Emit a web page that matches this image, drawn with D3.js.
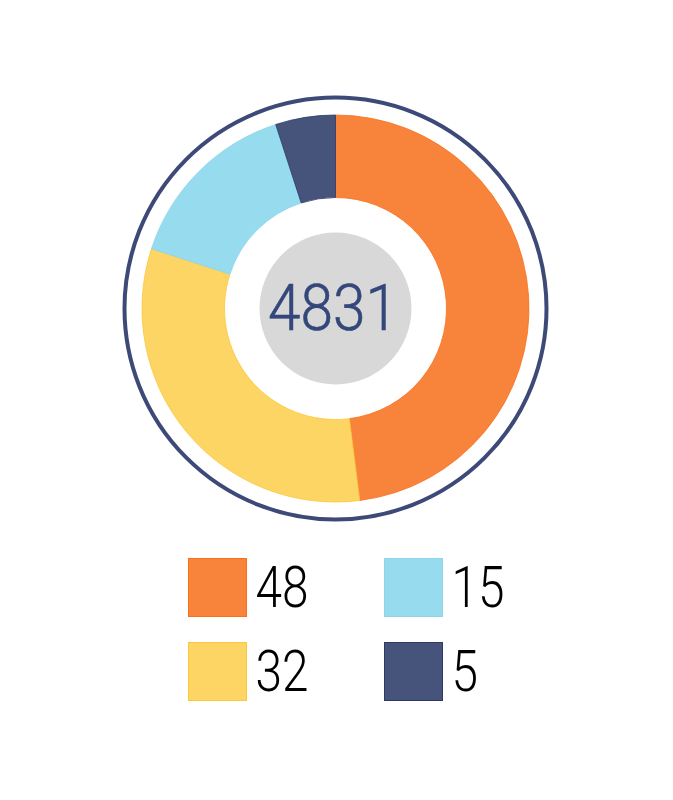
<!DOCTYPE html>
<html>
<head>
<meta charset="utf-8">
<script src="https://cdn.jsdelivr.net/npm/d3@7"></script>
<style>
  html, body { margin: 0; padding: 0; background: #ffffff; }
  svg { display: block; }
</style>
</head>
<body>
<svg id="chart" width="673" height="800"></svg>
<script>
// Shares of the total, drawn clockwise from 12 o'clock
const categories = ["A", "B", "C", "D"];
const values = [48, 32, 15, 5];
const fills = ["#F8843C", "#FDD565", "#97DCEE", "#46537A"];
const edges = ["#F8701E", "#FBC83A", "#8DD6EA", "#2C3A68"];
const legendLabels = ["48", "32", "15", "5"];
const totalLabel = "4831";

const svg = d3.select("#chart");
const cx = 335.5, cy = 308.5;

// Outer decorative ring
svg.append("circle")
  .attr("cx", cx).attr("cy", cy).attr("r", 211)
  .attr("fill", "none")
  .attr("stroke", "#3D4A78")
  .attr("stroke-width", 4);

const data = categories.map((c, i) => ({ key: c, value: values[i], i }));
const pie = d3.pie().sort(null).value(d => d.value);
const arc = d3.arc().innerRadius(111).outerRadius(193.5);

const g = svg.append("g").attr("transform", `translate(${cx},${cy})`);
g.selectAll("path.slice")
  .data(pie(data))
  .join("path")
  .attr("class", "slice")
  .attr("d", arc)
  .attr("fill", d => fills[d.data.i])
  .attr("stroke", d => edges[d.data.i])
  .attr("stroke-width", 0.8);

// Centre disc with the total
g.append("circle")
  .attr("r", 76)
  .attr("fill", "#D8D8D8");

g.append("text")
  .attr("x", -67.5)
  .attr("y", 21)
  .attr("font-family", "Roboto, 'Noto Sans', sans-serif")
  .attr("font-weight", 300)
  .attr("font-size", 65)
  .attr("fill", "#34477A")
  .attr("stroke", "#34477A")
  .attr("stroke-width", 0.6)
  .attr("textLength", 130)
  .attr("lengthAdjust", "spacingAndGlyphs")
  .text(totalLabel);

// Legend: two columns, two rows
const legendX = d3.scaleOrdinal().domain([0, 1]).range([188.5, 384.5]);
const legendY = d3.scaleOrdinal().domain([0, 1]).range([558.5, 642.5]);
const legendPos = [[0, 0], [0, 1], [1, 0], [1, 1]];

const items = svg.append("g").selectAll("g.item")
  .data(data)
  .join("g")
  .attr("class", "item")
  .attr("transform", d => `translate(${legendX(legendPos[d.i][0])},${legendY(legendPos[d.i][1])})`);

items.append("rect")
  .attr("width", 58)
  .attr("height", 58)
  .attr("fill", d => fills[d.i])
  .attr("stroke", d => edges[d.i])
  .attr("stroke-width", 1);

items.append("text")
  .attr("x", 67)
  .attr("y", 48)
  .attr("font-family", "Roboto, 'Noto Sans', sans-serif")
  .attr("font-weight", 300)
  .attr("font-size", 57)
  .attr("fill", "#000000")
  .attr("textLength", d => legendLabels[d.i].length * 26.5)
  .attr("lengthAdjust", "spacingAndGlyphs")
  .text(d => legendLabels[d.i]);
</script>
</body>
</html>
